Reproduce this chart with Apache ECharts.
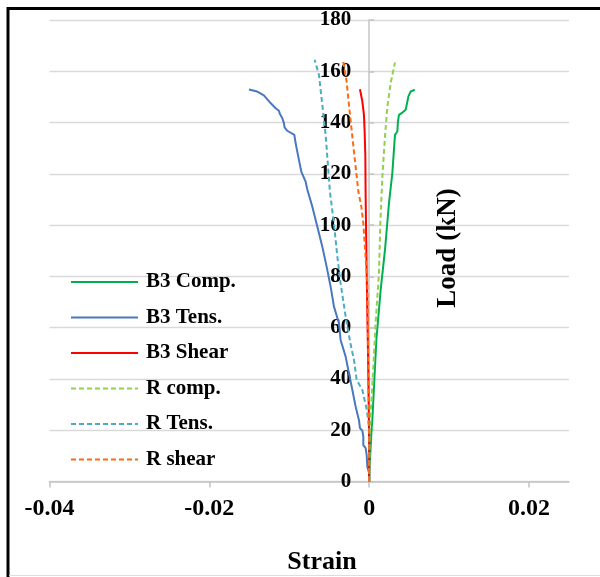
<!DOCTYPE html>
<html>
<head>
<meta charset="utf-8">
<script src="https://cdn.jsdelivr.net/npm/echarts@6/dist/echarts.min.js"></script>
<style>
  html, body { margin: 0; padding: 0; background: #fff; }
  #chart { width: 600px; height: 577px; }
</style>
</head>
<body>
<div id="chart"></div>
<script>
// Load (kN) against strain for beam B3 and reference beam R
const seriesNames = ['B3 Comp.', 'B3 Tens.', 'B3 Shear', 'R comp.', 'R Tens.', 'R shear'];

const b3CompStrain = [0, 0.00006, 0.0003, 0.0004, 0.0009, 0.00144, 0.00198, 0.00248, 0.0029, 0.00323, 0.00353, 0.0036, 0.00373, 0.00416, 0.00457, 0.00491, 0.0052, 0.0057];
const b3CompLoad   = [0, 5.8, 20.1, 24, 55.2, 74.7, 90.3, 108.6, 120.3, 135.2, 136.5, 140.4, 143, 143.9, 145, 150.2, 152.1, 152.8];

const b3TensStrain = [0, 0, -0.00023, -0.00031, -0.00044, -0.00073, -0.00073, -0.00085, -0.00115, -0.00128, -0.00169, -0.0021, -0.00253, -0.00294, -0.00357, -0.00378, -0.0044, -0.00482, -0.00532, -0.00586, -0.00648, -0.00711, -0.00773, -0.00795, -0.00849, -0.00866, -0.00891, -0.0092, -0.00936, -0.00961, -0.01024, -0.01058, -0.01066, -0.01086, -0.01116, -0.01129, -0.0117, -0.01233, -0.01317, -0.014, -0.01504];
const b3TensLoad   = [0, 3.2, 5.8, 10.3, 13, 14.2, 17.5, 19.8, 20.8, 24, 29.2, 35.7, 42.2, 48.7, 55.2, 61.7, 68.2, 76, 83.8, 91.6, 99.4, 107.2, 113.8, 117, 120.9, 123.5, 127.4, 132, 135.2, 135.9, 136.8, 138.1, 139.8, 141.7, 143.3, 144.6, 145.6, 147.6, 150.6, 152.1, 152.9];

const b3ShearStrain = [0, 0, -0.00015, -0.00031, -0.00044, -0.00048, -0.00056, -0.00065, -0.00085, -0.00115];
const b3ShearLoad   = [0, 16.2, 51.3, 81.4, 111.8, 127.4, 135.9, 143, 148.2, 153];

const rCompStrain = [0, 0.00006, 0.00019, 0.00048, 0.00081, 0.00123, 0.0014, 0.00165, 0.00198, 0.00228, 0.00269, 0.00323];
const rCompLoad   = [0, 16.2, 26.7, 42.3, 61.9, 81.4, 100.8, 118.9, 134.6, 146.3, 155.4, 163.4];

const rTensStrain = [0, 0, -0.00003, -0.0003, -0.00085, -0.00156, -0.0019, -0.00232, -0.00294, -0.00357, -0.00398, -0.00441, -0.00491, -0.00516, -0.00544, -0.00586, -0.00628, -0.00682];
const rTensLoad   = [0, 12, 21.4, 28, 35.7, 39.6, 47.4, 53.5, 64.3, 77.3, 87.7, 100.8, 113.1, 123.5, 135.2, 146.9, 158.6, 164.5];

const rShearStrain = [0, 0, -0.00013, -0.00023, -0.00073, -0.00098, -0.00135, -0.0019, -0.0024, -0.00282, -0.00323];
const rShearLoad   = [0, 24, 55, 77.5, 100.8, 107.2, 113.1, 128.7, 143, 156, 163.8];

const xTickValues = [-0.04, -0.02, 0, 0.02];

const serif = '"Liberation Serif", "Times New Roman", serif';
const zip = (xs, ys) => xs.map((x, i) => [x, ys[i]]);

const styles = [
  { color: '#00B050', type: 'solid' },
  { color: '#4A78C0', type: 'solid' },
  { color: '#FF0000', type: 'solid' },
  { color: '#92D050', type: [5, 3] },
  { color: '#4BACC6', type: [5, 3] },
  { color: '#FF6A10', type: [5, 3] }
];
const dataSets = [
  zip(b3CompStrain, b3CompLoad),
  zip(b3TensStrain, b3TensLoad),
  zip(b3ShearStrain, b3ShearLoad),
  zip(rCompStrain, rCompLoad),
  zip(rTensStrain, rTensLoad),
  zip(rShearStrain, rShearLoad)
];

const gridLeft = 49.4, gridRight = 31;
const xMin = -0.04, xMax = 0.025;
const plotWidth = 600 - gridLeft - gridRight;
// shift the load axis so it stands at zero strain
const yAxisShift = -plotWidth * (0 - xMin) / (xMax - xMin);

const chart = echarts.init(document.getElementById('chart'), null, { renderer: 'canvas' });

chart.setOption({
  animation: false,
  backgroundColor: '#fff',
  grid: { left: gridLeft, right: gridRight, top: 20, bottom: 95.5, containLabel: false },
  xAxis: {
    type: 'value',
    min: xMin,
    max: xMax,
    interval: 0.02,
    axisLine: { onZero: true, lineStyle: { color: '#c4c4c4', width: 1.5 } },
    axisTick: { show: true, length: 6, customValues: xTickValues, lineStyle: { color: '#c4c4c4', width: 1.5 } },
    axisLabel: {
      customValues: xTickValues,
      margin: 15,
      fontFamily: serif, fontWeight: 'bold', fontSize: 24, color: '#000',
      formatter: v => String(+v.toFixed(2))
    },
    splitLine: { show: false }
  },
  yAxis: {
    type: 'value',
    min: 0,
    max: 180,
    interval: 20,
    offset: yAxisShift,
    axisLine: { onZero: false, lineStyle: { color: '#c4c4c4', width: 1.5 } },
    axisTick: { show: true, inside: true, length: 5, lineStyle: { color: '#c4c4c4', width: 1.5 } },
    axisLabel: {
      margin: 18,
      fontFamily: serif, fontWeight: 'bold', fontSize: 21, color: '#000'
    },
    splitLine: { show: true, lineStyle: { color: '#d9d9d9', width: 1.3 } }
  },
  legend: {
    orient: 'vertical',
    left: 65,
    top: 266.5,
    itemWidth: 67,
    itemHeight: 14,
    itemGap: 14.5,
    data: seriesNames,
    itemStyle: { opacity: 0, borderWidth: 0 },
    textStyle: { fontFamily: serif, fontWeight: 'bold', fontSize: 21, lineHeight: 21, color: '#000', padding: [0, 0, 0, 3] }
  },
  graphic: [
    { type: 'rect', silent: true, z: 100,
      shape: { x: 8, y: 8.5, width: 700, height: 700 },
      style: { fill: 'none', stroke: '#000', lineWidth: 3 } },
    { type: 'line', silent: true, z: 100,
      shape: { x1: 9, y1: 575.5, x2: 600, y2: 575.5 },
      style: { stroke: '#dddddd', lineWidth: 1 } },
    { type: 'text', silent: true, x: 322, y: 562,
      style: { text: 'Strain', fontFamily: serif, fontWeight: 'bold', fontSize: 26, fill: '#000', align: 'center', verticalAlign: 'middle' } },
    { type: 'text', silent: true, x: 448, y: 248, rotation: Math.PI / 2,
      style: { text: 'Load (kN)', fontFamily: serif, fontWeight: 'bold', fontSize: 27, fill: '#000', align: 'center', verticalAlign: 'middle' } }
  ],
  series: seriesNames.map((name, i) => ({
    name,
    type: 'line',
    data: dataSets[i],
    showSymbol: false,
    symbol: 'none',
    color: styles[i].color,
    lineStyle: { color: styles[i].color, width: 2, type: styles[i].type },
    clip: false
  }))
});
</script>
</body>
</html>
